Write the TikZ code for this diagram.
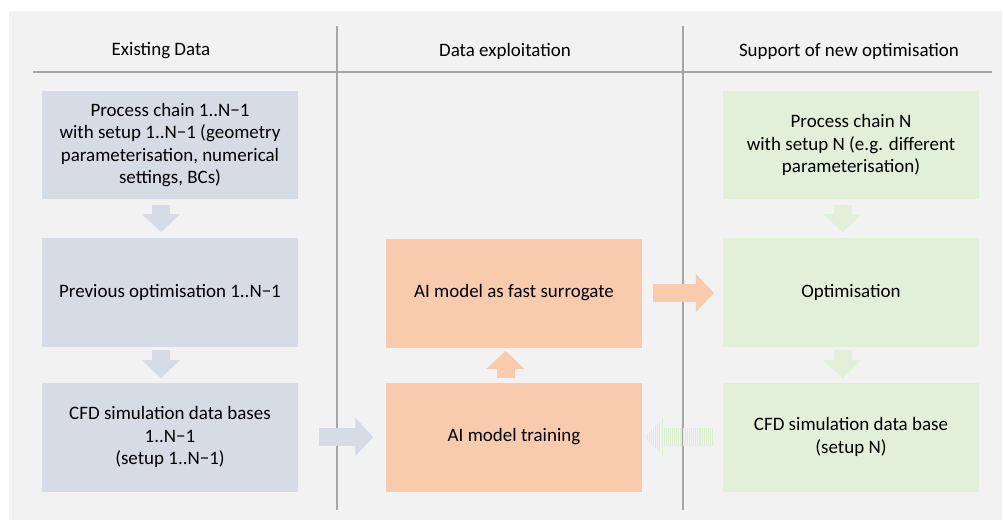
\documentclass[tikz,border=0pt]{standalone}
\usepackage{fontspec}
\setmainfont{Carlito}
\usepackage{tikz}
\usetikzlibrary{arrows.meta, patterns.meta}
\definecolor{paneGrey}{HTML}{F2F2F2}
\definecolor{ruleGrey}{HTML}{A6A6A6}
\definecolor{oldBlue}{HTML}{D6DCE5}
\definecolor{aiOrange}{HTML}{F8CBAD}
\definecolor{newGreen}{HTML}{E2F0D9}
\definecolor{stripeGreen}{HTML}{DAEDCE}

\tikzset{
  stage/.style={minimum width=5.12cm, minimum height=2.18cm, inner sep=0pt, align=center, font=\fontsize{10.8}{12.8}\selectfont},
  oldstage/.style={stage, fill=oldBlue},
  aistage/.style={stage, fill=aiOrange},
  newstage/.style={stage, fill=newGreen},
  colhead/.style={font=\fontsize{10.8}{13}\selectfont},
  flow/.style={line width=0.36cm, -{Triangle[length=0.36cm, width=0.74cm]}},
}

\begin{document}
\begin{tikzpicture}[x=0.02cm, y=-0.02cm]
  \useasboundingbox (0,0) rectangle (1003,522);
  \fill[paneGrey] (9,11) rectangle (1002,520);
  \draw[ruleGrey, line width=0.7pt] (33,72) -- (992,72);
  \draw[ruleGrey, line width=0.7pt] (337,26) -- (337,510);
  \draw[ruleGrey, line width=0.7pt] (683,26) -- (683,510);

  \node[colhead] (hOld) at (161,51) {Existing Data};
  \node[colhead] (hAi) at (505,51) {Data exploitation};
  \node[colhead] (hNew) at (849,51) {Support of new optimisation};

  \node[oldstage] (chainOld) at (170,145) {Process chain 1..N−1\\with setup 1..N−1 (geometry\\parameterisation, numerical\\settings, BCs)};
  \node[oldstage] (optOld) at (170,292) {Previous optimisation 1..N−1};
  \node[oldstage] (cfdOld) at (170,437) {CFD simulation data bases\\1..N−1\\(setup 1..N−1)};

  \node[aistage] (surrogate) at (514,293) {AI model as fast surrogate};
  \node[aistage] (training) at (514,437) {AI model training};

  \node[newstage] (chainNew) at (851,145) {Process chain N\\with setup N (e.g. different\\parameterisation)};
  \node[newstage] (optNew) at (851,292) {Optimisation};
  \node[newstage] (cfdNew) at (851,437) {CFD simulation data base\\(setup N)};

  \draw[flow, oldBlue] ([shift={(-9,5)}]chainOld.south) -- ([shift={(-9,-5)}]optOld.north);
  \draw[flow, oldBlue] ([shift={(-9,3)}]optOld.south) -- ([shift={(-9,-4)}]cfdOld.north);
  \draw[flow, oldBlue] ([xshift=12]cfdOld.east) -- ([xshift=-7]training.west);
  \draw[flow, aiOrange] ([shift={(-8.5,-4)}]training.north) -- ([shift={(-8.5,3)}]surrogate.south);
  \draw[flow, aiOrange] ([xshift=6]surrogate.east) -- ([xshift=-5]surrogate.east -| optNew.west);
  \draw[flow, newGreen] ([shift={(-8.5,5)}]chainNew.south) -- ([shift={(-8.5,-5)}]optNew.north);
  \draw[flow, newGreen] ([shift={(-8.5,3)}]optNew.south) -- ([shift={(-8.5,-4)}]cfdNew.north);

  \coordinate (backTail) at ([xshift=-5]cfdNew.west);
  \fill[pattern={Lines[angle=90, distance=1.2pt, line width=0.6pt]}, pattern color=stripeGreen]
    (backTail) ++(0,-9) -- ++(-51,0) -- ++(0,-9.5) -- ++(-18,18.5) -- ++(18,18.5) -- ++(0,-9.5) -- ++(51,0) -- cycle;
\end{tikzpicture}
\end{document}
